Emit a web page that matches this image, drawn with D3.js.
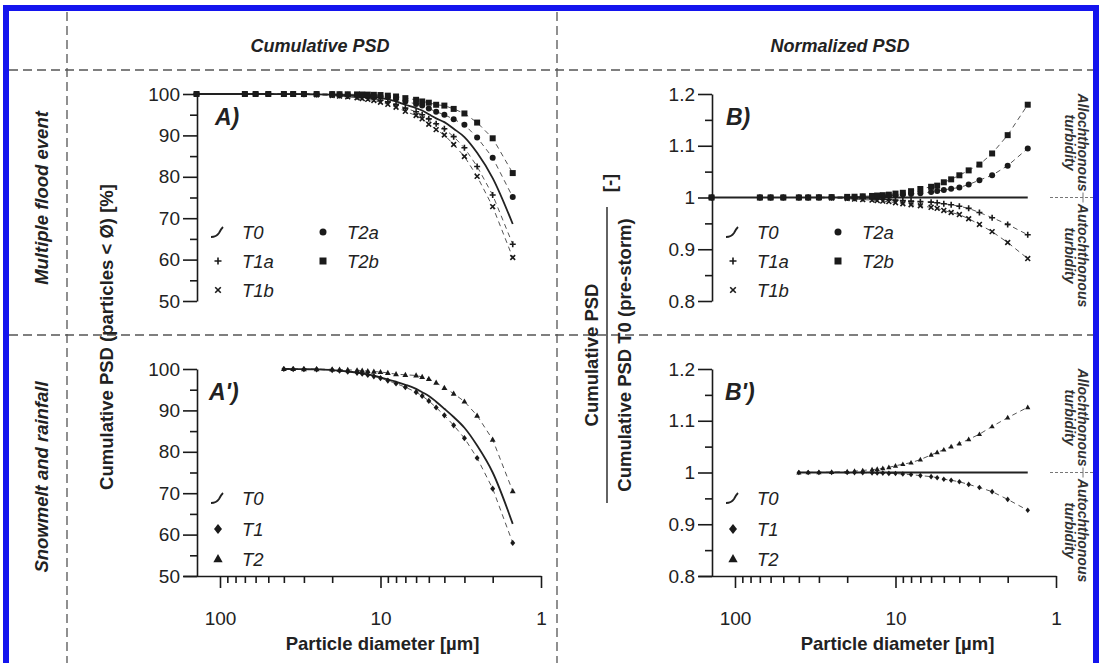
<!DOCTYPE html>
<html><head><meta charset="utf-8">
<script src="https://cdn.jsdelivr.net/npm/d3@7"></script>
<style>
body{margin:0;background:#fff;}
svg{display:block;font-family:"Liberation Sans",Arial,Helvetica,sans-serif;}
</style></head><body>
<svg id="chart" width="1101" height="663"></svg>
<script>
// ---------------- DATA ----------------
// particle diameters [µm], multiple flood event
const diamFlood = [140, 70, 60, 50, 40, 35, 30, 25, 20, 18, 16, 14, 13, 12, 11, 10, 9, 8, 7, 6, 5.5, 5, 4.5, 4, 3.5, 3, 2.5, 2, 1.5];
// cumulative PSD [%] (panel A)
const floodT0  = [100, 100, 100, 100, 99.99, 99.98, 99.96, 99.92, 99.85, 99.8, 99.7, 99.6, 99.5, 99.4, 99.25, 99.0, 98.7, 98.2, 97.4, 96.6, 96.0, 95.1, 94.1, 93.2, 91.6, 89.6, 85.8, 79.7, 68.6];
const floodT1a = [100, 100, 100, 100, 99.99, 99.98, 99.94, 99.87, 99.75, 99.66, 99.5, 99.34, 99.2, 99.05, 98.85, 98.5, 98.1, 97.5, 96.6, 95.7, 95.0, 94.0, 92.8, 91.6, 89.7, 87.0, 82.5, 75.6, 63.7];
const floodT1b = [100, 100, 100, 100, 99.99, 99.97, 99.92, 99.82, 99.65, 99.5, 99.3, 99.1, 98.9, 98.7, 98.45, 98.0, 97.5, 96.8, 95.8, 94.8, 94.0, 92.7, 91.4, 90.1, 87.8, 84.9, 80.1, 72.8, 60.5];
const floodT2a = [100, 100, 100, 100, 100, 100, 99.98, 99.96, 99.92, 99.89, 99.84, 99.78, 99.72, 99.66, 99.58, 99.45, 99.25, 98.85, 98.2, 97.6, 97.2, 96.5, 95.7, 95.0, 93.9, 92.6, 89.5, 84.6, 75.1];
const floodT2b = [100, 100, 100, 100, 100, 100, 100, 99.99, 99.97, 99.95, 99.93, 99.9, 99.88, 99.85, 99.8, 99.75, 99.6, 99.4, 99.0, 98.6, 98.2, 97.9, 97.4, 97.2, 96.4, 95.3, 93.1, 89.3, 80.9];
// normalized PSD [-] (panel B)
const normT0  = [1, 1, 1, 1, 1, 1, 1, 1, 1, 1, 1, 1, 1, 1, 1, 1, 1, 1, 1, 1, 1, 1, 1, 1, 1, 1, 1, 1, 1];
const normT1a = [1, 1, 1, 1, 1, 1, 0.9998, 0.9995, 0.999, 0.9986, 0.998, 0.9974, 0.997, 0.9965, 0.996, 0.995, 0.994, 0.993, 0.992, 0.991, 0.99, 0.988, 0.986, 0.983, 0.979, 0.971, 0.961, 0.948, 0.928];
const normT1b = [1, 1, 1, 1, 1, 1, 0.9996, 0.999, 0.998, 0.997, 0.996, 0.995, 0.994, 0.993, 0.992, 0.99, 0.988, 0.986, 0.984, 0.981, 0.979, 0.975, 0.971, 0.967, 0.959, 0.948, 0.934, 0.913, 0.882];
const normT2a = [1, 1, 1, 1, 1, 1, 1.0002, 1.0004, 1.0007, 1.0009, 1.0014, 1.0018, 1.0022, 1.0026, 1.0033, 1.0045, 1.0056, 1.0066, 1.0082, 1.0104, 1.0125, 1.0147, 1.017, 1.0193, 1.0251, 1.0335, 1.0431, 1.0615, 1.0948];
const normT2b = [1, 1, 1, 1, 1, 1, 1.0004, 1.0007, 1.0012, 1.0015, 1.0023, 1.003, 1.0038, 1.0045, 1.0055, 1.0076, 1.0091, 1.0122, 1.0164, 1.0207, 1.0229, 1.0294, 1.0351, 1.0429, 1.0524, 1.0636, 1.0851, 1.1205, 1.1793];

// snowmelt and rainfall
const diamSnow = [40, 35, 30, 25, 20, 18, 16, 14, 13, 12, 11, 10, 9, 8, 7, 6, 5.5, 5, 4.5, 4, 3.5, 3, 2.5, 2, 1.5];
const snowT0 = [100, 99.99, 99.96, 99.9, 99.75, 99.6, 99.4, 99.15, 98.95, 98.7, 98.4, 98.0, 97.5, 96.9, 96.2, 95.2, 94.4, 93.5, 92.1, 90.4, 88.4, 85.8, 81.5, 75.0, 62.6];
const snowT1 = [100, 99.99, 99.96, 99.9, 99.74, 99.58, 99.36, 99.08, 98.85, 98.58, 98.23, 97.8, 97.2, 96.5, 95.6, 94.4, 93.5, 92.3, 90.7, 88.8, 86.4, 83.3, 78.5, 71.1, 58.0];
const snowT2 = [100, 100, 99.99, 99.97, 99.93, 99.87, 99.8, 99.7, 99.6, 99.49, 99.38, 99.27, 99.06, 98.74, 98.6, 98.44, 98.08, 97.61, 96.7, 95.46, 94.06, 92.15, 88.75, 82.95, 70.49];
const normSnowT0 = [1, 1, 1, 1, 1, 1, 1, 1, 1, 1, 1, 1, 1, 1, 1, 1, 1, 1, 1, 1, 1, 1, 1, 1, 1];
const normSnowT1 = [1, 1, 1, 1, 0.9999, 0.9998, 0.9996, 0.9993, 0.999, 0.9988, 0.9983, 0.998, 0.997, 0.996, 0.994, 0.992, 0.99, 0.987, 0.985, 0.982, 0.977, 0.971, 0.963, 0.948, 0.927];
const normSnowT2 = [1, 1.0001, 1.0003, 1.0007, 1.0018, 1.0027, 1.004, 1.0055, 1.0066, 1.008, 1.01, 1.013, 1.016, 1.019, 1.025, 1.034, 1.039, 1.044, 1.05, 1.056, 1.064, 1.074, 1.089, 1.106, 1.126];

// axis ticks / labels
const xMajor = [100, 10, 1];
const xMinor = [90, 80, 70, 60, 50, 40, 30, 20, 9, 8, 7, 6, 5, 4, 3, 2];
const cumMajor = [50, 60, 70, 80, 90, 100];
const cumMinor = [55, 65, 75, 85, 95];
const normMajor = [0.8, 0.9, 1.0, 1.1, 1.2];
const normMinor = [0.85, 0.95, 1.05, 1.15];
const colHeaders = ["Cumulative PSD", "Normalized PSD"];
const rowHeaders = ["Multiple flood event", "Snowmelt and rainfall"];

// ---------------- DRAWING ----------------
const svg = d3.select("#chart");
svg.append("rect").attr("width", 1101).attr("height", 663).attr("fill", "#fff");

const FONT_TICK = 19;
const ink = "#1a1a1a";

function markerPath(type, s) {
  const h = s / 2;
  switch (type) {
    case "square": return `M${-h},${-h}h${s}v${s}h${-s}Z`;
    case "circle": return `M${h},0A${h},${h} 0 1,1 ${-h},0A${h},${h} 0 1,1 ${h},0Z`;
    case "diamond": return `M0,${-s*0.62}L${s*0.5},0L0,${s*0.62}L${-s*0.5},0Z`;
    case "triangle": return `M0,${-s*0.62}L${s*0.58},${s*0.42}L${-s*0.58},${s*0.42}Z`;
    case "plus": return `M${-h},0H${h}M0,${-h}V${h}`;
    case "cross": return `M${-h*0.8},${-h*0.8}L${h*0.8},${h*0.8}M${-h*0.8},${h*0.8}L${h*0.8},${-h*0.8}`;
  }
}
function isStroke(type){ return type === "plus" || type === "cross"; }
function drawMarker(g, type, x, y, s) {
  const p = g.append("path").attr("d", markerPath(type, s)).attr("transform", `translate(${x},${y})`);
  if (isStroke(type)) p.attr("fill", "none").attr("stroke", ink).attr("stroke-width", 1.6);
  else p.attr("fill", ink).attr("stroke", "none");
}
const tildePath = "M-7,5 C-4,5 -1,4 1,1 C2,-1 3,-3 5,-5";

function drawPanel(o) {
  const g = svg.append("g");
  const x = d3.scaleLog().domain([170, 1]).range([o.ax - 14, o.ax + 344]);
  const y = d3.scaleLinear().domain(o.yDomain).range([o.yBot, o.yTop]);

  // y axis
  const yAx = g.append("g").attr("transform", `translate(${o.ax},0)`)
    .call(d3.axisLeft(y).tickValues(o.yMajor).tickSize(14).tickSizeOuter(0).tickPadding(3).tickFormat(o.fmt));
  yAx.select(".domain").attr("stroke", ink).attr("stroke-width", 1.6);
  yAx.selectAll(".tick line").attr("stroke", ink).attr("stroke-width", 1.6);
  yAx.selectAll(".tick text").attr("font-size", FONT_TICK).attr("fill", "#222").attr("font-family", "Liberation Sans, Arial, sans-serif");
  const yMin = g.append("g").attr("transform", `translate(${o.ax},0)`)
    .call(d3.axisLeft(y).tickValues(o.yMinor).tickSize(7).tickFormat(""));
  yMin.select(".domain").remove();
  yMin.selectAll(".tick line").attr("stroke", ink).attr("stroke-width", 1.6);

  if (o.xAxis) {
    const xAx = g.append("g").attr("transform", `translate(0,${o.yBot})`)
      .call(d3.axisBottom(x).tickValues(xMajor).tickSize(12).tickSizeOuter(0).tickPadding(24).tickFormat(d3.format("d")));
    xAx.select(".domain").attr("stroke", ink).attr("stroke-width", 1.6);
    xAx.selectAll(".tick line").attr("stroke", ink).attr("stroke-width", 1.6);
    xAx.selectAll(".tick text").attr("font-size", FONT_TICK).attr("fill", "#222").attr("font-family", "Liberation Sans, Arial, sans-serif");
    const xMin = g.append("g").attr("transform", `translate(0,${o.yBot})`)
      .call(d3.axisBottom(x).tickValues(xMinor).tickSize(7).tickFormat(""));
    xMin.select(".domain").remove();
    xMin.selectAll(".tick line").attr("stroke", ink).attr("stroke-width", 1.6);
    g.append("text").attr("x", (x(100) + x(1)) / 2 + 2).attr("y", o.yBot + 74)
      .attr("text-anchor", "middle").attr("font-size", 18.5).attr("font-weight", "bold").attr("fill", "#222")
      .text("Particle diameter [µm]");
  }

  // dashed series lines
  const line = d3.line().x(d => x(d[0])).y(d => y(d[1]));
  o.series.forEach(s => {
    g.append("path").datum(o.diam.map((d, i) => [d, s.values[i]]))
      .attr("d", line).attr("fill", "none").attr("stroke", "#555").attr("stroke-width", 1)
      .attr("stroke-dasharray", "5,4");
  });
  // T0 solid line
  const smooth = d3.line().x(d => x(d[0])).y(d => y(d[1])).curve(d3.curveMonotoneX);
  g.append("path").datum(o.diam.map((d, i) => [d, o.t0[i]]))
    .attr("d", smooth).attr("fill", "none").attr("stroke", "#222").attr("stroke-width", 1.8);
  // markers
  o.series.forEach(s => {
    o.diam.forEach((d, i) => drawMarker(g, s.marker, x(d), y(s.values[i]), o.msize));
  });

  // panel letter
  g.append("text").attr("x", o.ax + o.letterDx).attr("y", o.yTop + 31)
    .attr("font-size", 23).attr("font-weight", "bold").attr("font-style", "italic").attr("fill", "#222")
    .text(o.letter);

  // legend
  const lg = g.append("g");
  o.legend.forEach(it => {
    const sx = o.ax + (it.col ? 126 : 21), tx = o.ax + (it.col ? 150 : 45);
    const yy = o.legendY[it.row];
    if (it.marker === "tilde") {
      lg.append("path").attr("d", tildePath).attr("transform", `translate(${sx},${yy})`)
        .attr("fill", "none").attr("stroke", "#222").attr("stroke-width", 1.8);
    } else drawMarker(lg, it.marker, sx, yy, o.lsize);
    lg.append("text").attr("x", tx).attr("y", yy + 6.5).attr("font-size", 18.5).attr("font-style", "italic")
      .attr("fill", "#222").text(it.name);
  });
  return {x, y};
}

const cumFmt = d3.format("d");
const normFmt = d => String(+d.toFixed(1));

// Panel A
drawPanel({ax: 197, yTop: 94, yBot: 301, yDomain: [50, 100], yMajor: cumMajor, yMinor: cumMinor, fmt: cumFmt,
  xAxis: false, diam: diamFlood, t0: floodT0, msize: 6, lsize: 7, letter: "A)", letterDx: 18,
  series: [{values: floodT1a, marker: "plus"}, {values: floodT1b, marker: "cross"}, {values: floodT2a, marker: "circle"}, {values: floodT2b, marker: "square"}],
  legendY: [232, 261, 290],
  legend: [{name: "T0", marker: "tilde", row: 0, col: 0}, {name: "T1a", marker: "plus", row: 1, col: 0}, {name: "T1b", marker: "cross", row: 2, col: 0},
           {name: "T2a", marker: "circle", row: 0, col: 1}, {name: "T2b", marker: "square", row: 1, col: 1}]});
// Panel B
const pB = drawPanel({ax: 712, yTop: 94, yBot: 301, yDomain: [0.8, 1.2], yMajor: normMajor, yMinor: normMinor, fmt: normFmt,
  xAxis: false, diam: diamFlood, t0: normT0, msize: 6, lsize: 7, letter: "B)", letterDx: 14,
  series: [{values: normT1a, marker: "plus"}, {values: normT1b, marker: "cross"}, {values: normT2a, marker: "circle"}, {values: normT2b, marker: "square"}],
  legendY: [232, 261, 290],
  legend: [{name: "T0", marker: "tilde", row: 0, col: 0}, {name: "T1a", marker: "plus", row: 1, col: 0}, {name: "T1b", marker: "cross", row: 2, col: 0},
           {name: "T2a", marker: "circle", row: 0, col: 1}, {name: "T2b", marker: "square", row: 1, col: 1}]});
// Panel A'
drawPanel({ax: 197, yTop: 369, yBot: 576, yDomain: [50, 100], yMajor: cumMajor, yMinor: cumMinor, fmt: cumFmt,
  xAxis: true, diam: diamSnow, t0: snowT0, msize: 5, lsize: 8, letter: "A')", letterDx: 12,
  series: [{values: snowT1, marker: "diamond"}, {values: snowT2, marker: "triangle"}],
  legendY: [498, 529, 559],
  legend: [{name: "T0", marker: "tilde", row: 0, col: 0}, {name: "T1", marker: "diamond", row: 1, col: 0}, {name: "T2", marker: "triangle", row: 2, col: 0}]});
// Panel B'
const pB2 = drawPanel({ax: 712, yTop: 369, yBot: 576, yDomain: [0.8, 1.2], yMajor: normMajor, yMinor: normMinor, fmt: normFmt,
  xAxis: true, diam: diamSnow, t0: normSnowT0, msize: 4.5, lsize: 8, letter: "B')", letterDx: 13,
  series: [{values: normSnowT1, marker: "diamond"}, {values: normSnowT2, marker: "triangle"}],
  legendY: [498, 529, 559],
  legend: [{name: "T0", marker: "tilde", row: 0, col: 0}, {name: "T1", marker: "diamond", row: 1, col: 0}, {name: "T2", marker: "triangle", row: 2, col: 0}]});

// ---- layout frame: dashed separators ----
const grid = svg.append("g").attr("stroke", "#555").attr("stroke-width", 1.3).attr("stroke-dasharray", "9,5").attr("fill", "none");
grid.append("line").attr("x1", 67).attr("x2", 67).attr("y1", 12).attr("y2", 663);
grid.append("line").attr("x1", 557).attr("x2", 557).attr("y1", 12).attr("y2", 663);
grid.append("line").attr("x1", 9).attr("x2", 1094).attr("y1", 70).attr("y2", 70);
grid.append("line").attr("x1", 9).attr("x2", 1094).attr("y1", 335).attr("y2", 335);

// headers
[[colHeaders[0], 320], [colHeaders[1], 840]].forEach(([t, cx]) => {
  svg.append("text").attr("x", cx).attr("y", 52).attr("text-anchor", "middle")
    .attr("font-size", 18).attr("font-weight", "bold").attr("font-style", "italic").attr("fill", "#222").text(t);
});
[[rowHeaders[0], 198], [rowHeaders[1], 477]].forEach(([t, cy]) => {
  svg.append("text").attr("transform", `translate(48,${cy}) rotate(-90)`).attr("text-anchor", "middle")
    .attr("font-size", 18.5).attr("font-weight", "bold").attr("font-style", "italic").attr("fill", "#222").text(t);
});

// y axis titles
svg.append("text").attr("transform", "translate(113,337) rotate(-90)").attr("text-anchor", "middle")
  .attr("font-size", 18.5).attr("font-weight", "bold").attr("fill", "#222").text("Cumulative PSD (particles < Ø) [%]");
const frac = svg.append("g").attr("transform", "translate(607,355) rotate(-90)");
frac.append("text").attr("x", 0).attr("y", -9).attr("text-anchor", "middle").attr("font-size", 18.5)
  .attr("font-weight", "bold").attr("fill", "#222").text("Cumulative PSD");
frac.append("line").attr("x1", -148).attr("x2", 148).attr("y1", 0).attr("y2", 0).attr("stroke", "#222").attr("stroke-width", 1.4);
frac.append("text").attr("x", 0).attr("y", 24).attr("text-anchor", "middle").attr("font-size", 18.5)
  .attr("font-weight", "bold").attr("fill", "#222").text("Cumulative PSD T0 (pre-storm)");
frac.append("text").attr("x", 172).attr("y", 9).attr("text-anchor", "middle").attr("font-size", 18.5)
  .attr("font-weight", "bold").attr("fill", "#222").text("[-]");

// right-side turbidity labels
[pB, pB2].forEach(p => {
  const yd = p.y(1.0);
  svg.append("line").attr("x1", 1050).attr("x2", 1094).attr("y1", yd).attr("y2", yd)
    .attr("stroke", "#777").attr("stroke-width", 1).attr("stroke-dasharray", "3,2");
  svg.append("line").attr("x1", 1083).attr("x2", 1083).attr("y1", yd - 5).attr("y2", yd + 5)
    .attr("stroke", "#777").attr("stroke-width", 1);
  const lab = (t, bx, cy) => svg.append("text").attr("transform", `translate(${bx},${cy}) rotate(90)`)
    .attr("text-anchor", "middle").attr("font-size", 14).attr("font-weight", "bold").attr("font-style", "italic")
    .attr("fill", "#333").text(t);
  lab("Allochthonous", 1078, yd - 55);
  lab("turbidity", 1065, yd - 55);
  lab("Autochthonous", 1078, yd + 58);
  lab("turbidity", 1065, yd + 58);
});

// blue frame
svg.append("path").attr("d", "M6,663 V8 H1096 V663").attr("fill", "none").attr("stroke", "#1414ee").attr("stroke-width", 6);
</script>
</body></html>
